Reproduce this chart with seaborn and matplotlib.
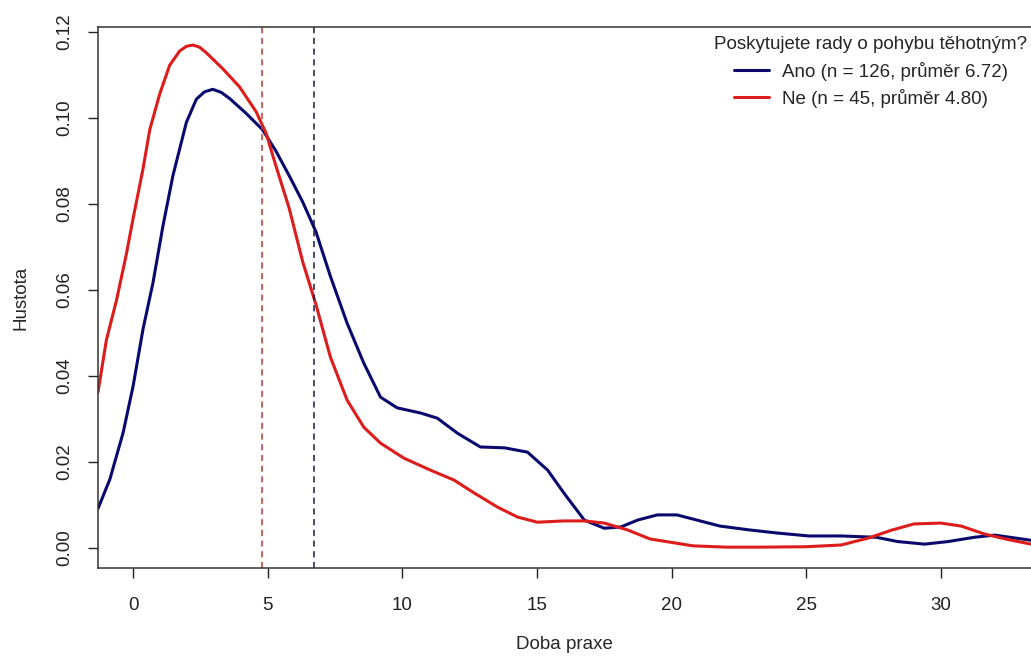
import numpy as np
import pandas as pd
from matplotlib import pyplot as plt
import seaborn as sns

# ==================== 数据（从图上读取的密度曲线）====================
ano_x = [-1.3, -0.86, -0.37, 0.0, 0.37, 0.74, 1.11, 1.48, 1.98, 2.35, 2.65, 2.96, 3.27, 3.58,
         4.2, 4.81, 5.3, 5.8, 6.3, 6.79, 7.33, 7.95, 8.57, 9.19, 9.81, 10.68, 11.3, 12.05, 12.9,
         13.8, 14.65, 15.4, 16.0, 16.76, 17.5, 18.12, 18.74, 19.47, 20.2, 20.94, 21.8, 22.9,
         23.9, 25.1, 26.3, 27.6, 28.4, 29.4, 30.27, 31.25, 32.0, 33.35]
ano_y = [0.0092, 0.016, 0.0268, 0.0376, 0.0509, 0.0617, 0.0749, 0.0866, 0.099, 0.1044, 0.1061,
         0.1067, 0.1060, 0.1046, 0.1011, 0.0973, 0.0924, 0.0866, 0.0805, 0.0736, 0.0632, 0.0523,
         0.043, 0.0351, 0.0326, 0.0314, 0.0302, 0.0267, 0.0235, 0.0233, 0.0223, 0.0181, 0.0128,
         0.0065, 0.0046, 0.0049, 0.0065, 0.0077, 0.0077, 0.0065, 0.0051, 0.0042, 0.0035, 0.0028,
         0.0028, 0.0025, 0.0015, 0.0009, 0.0015, 0.0025, 0.003, 0.0018]

ne_x = [-1.3, -0.99, -0.62, -0.25, 0.0, 0.37, 0.62, 0.99, 1.36, 1.73, 1.98, 2.22, 2.47, 2.72,
        3.33, 3.95, 4.57, 4.94, 5.3, 5.8, 6.3, 6.79, 7.33, 7.95, 8.57, 9.19, 10.06, 11.05, 11.92,
        12.67, 13.54, 14.28, 15.02, 16.0, 16.76, 17.5, 18.37, 19.2, 20.1, 20.8, 22.05, 23.3,
        25.0, 26.3, 27.3, 28.2, 29.0, 30.0, 30.76, 31.6, 32.4, 33.35]
ne_y = [0.0363, 0.0484, 0.0575, 0.0683, 0.0766, 0.0882, 0.0973, 0.1056, 0.1123, 0.1156, 0.1167,
        0.1170, 0.1165, 0.1152, 0.1115, 0.1073, 0.1015, 0.0965, 0.089, 0.079, 0.0666, 0.0567,
        0.0444, 0.0344, 0.0281, 0.0244, 0.0209, 0.0181, 0.0158, 0.0128, 0.0095, 0.0072, 0.006,
        0.0063, 0.0063, 0.0058, 0.0042, 0.0021, 0.0012, 0.0005, 0.0002, 0.0002, 0.0003, 0.0007,
        0.0023, 0.0042, 0.0056, 0.0058, 0.0051, 0.0033, 0.0021, 0.0009]

skupiny = ['Ano (n = 126, průměr 6.72)', 'Ne (n = 45, průměr 4.80)']
prumery = [6.72, 4.80]
barvy = ['#0a0a6e', '#dd1c1c']
barvy_prumer = ['#1a1a3a', '#c0392b']

df = pd.concat([
    pd.DataFrame({'x': ano_x, 'y': ano_y, 'skupina': skupiny[0]}),
    pd.DataFrame({'x': ne_x, 'y': ne_y, 'skupina': skupiny[1]}),
])

# ==================== 绘图 ====================
sns.set_style('ticks')
plt.rcParams['font.family'] = ['Liberation Sans', 'DejaVu Sans']
fs = 13.5

fig = plt.figure(figsize=(10.31, 6.61), dpi=100)
ax = fig.add_axes([0.0951, 0.1407, 0.9049, 0.8185])

sns.lineplot(data=df, x='x', y='y', hue='skupina', palette=dict(zip(skupiny, barvy)),
             linewidth=2.2, sort=False, ax=ax)

for m, c in zip(prumery, barvy_prumer):
    ax.axvline(m, color=c, linestyle=(0, (4, 3)), linewidth=1.1)

ax.set_xlim(-1.3, 33.35)
ax.set_ylim(-0.00465, 0.1212)
ax.set_xticks([0, 5, 10, 15, 20, 25, 30])
ax.set_yticks([0.0, 0.02, 0.04, 0.06, 0.08, 0.10, 0.12])
ax.set_yticklabels(['0.00', '0.02', '0.04', '0.06', '0.08', '0.10', '0.12'],
                   rotation=90, va='center')
ax.tick_params(direction='out', length=7, width=1, colors='#222222', labelsize=fs)
ax.tick_params(axis='x', pad=14)
ax.tick_params(axis='y', pad=11)
ax.set_xlabel('Doba praxe', fontsize=fs, labelpad=16)
ax.set_ylabel('Hustota', fontsize=fs, labelpad=19)
for s in ['left', 'top', 'bottom']:
    ax.spines[s].set_color('#333333')
    ax.spines[s].set_linewidth(1.1)
ax.spines['right'].set_visible(False)

handles, labels = ax.get_legend_handles_labels()
leg = ax.legend(handles, labels, title='Poskytujete rady o pohybu těhotným?', loc='upper right',
                bbox_to_anchor=(1.0, 0.99), frameon=False, fontsize=fs,
                title_fontsize=fs, handlelength=1.9, handletextpad=0.65,
                labelspacing=0.45, borderaxespad=0.0, borderpad=0.2)

plt.savefig('out.png', dpi=100)
